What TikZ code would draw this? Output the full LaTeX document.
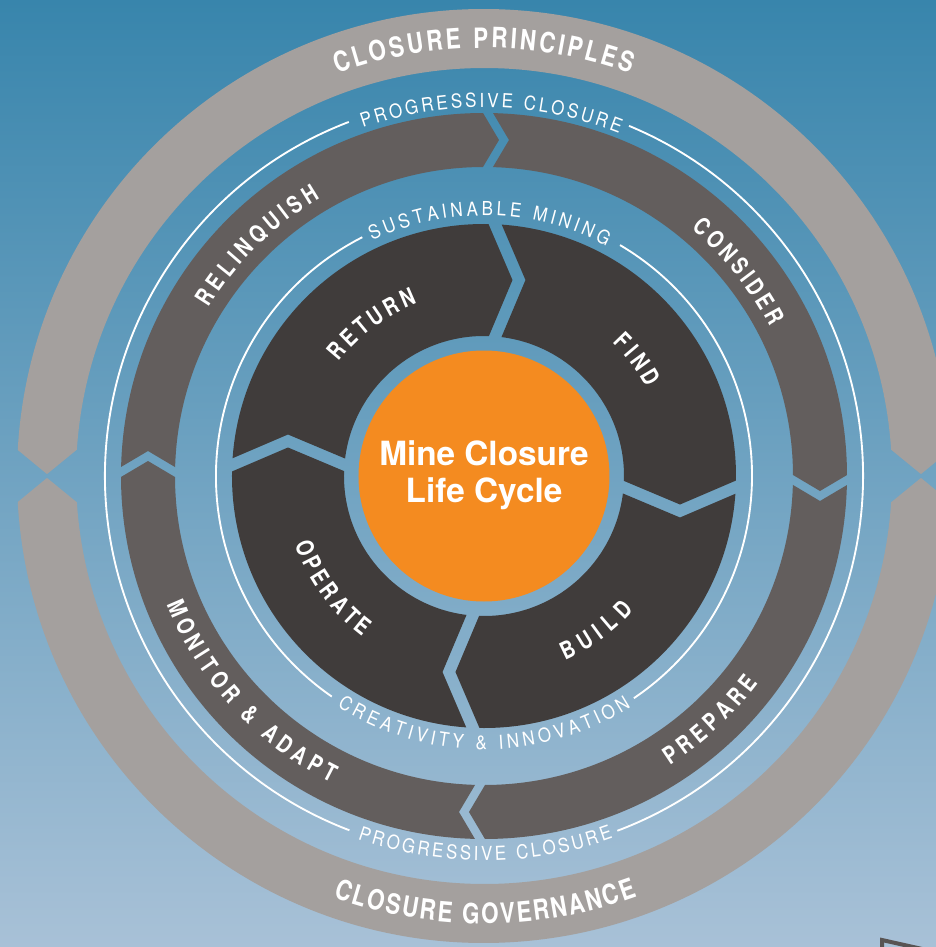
\documentclass[tikz,border=0pt]{standalone}
\usepackage{fontspec}
\usetikzlibrary{decorations.text}
\newfontfamily\heros{TeX Gyre Heros}
\newfontfamily\heroscn{TeX Gyre Heros}[FakeStretch=0.8]
\newfontfamily\herosnarrow{TeX Gyre Heros}[FakeStretch=0.88]
\definecolor{bgtop}{RGB}{56,133,172}
\definecolor{bgbot}{RGB}{168,193,215}
\definecolor{outerring}{RGB}{164,160,158}
\definecolor{midring}{RGB}{99,94,93}
\definecolor{innerring}{RGB}{64,60,59}
\definecolor{hub}{RGB}{244,139,32}
\definecolor{framegray}{RGB}{88,84,83}
\tikzset{
  bigtext/.style={decorate, decoration={text along path, text align=fit to path,
    text={|\color{white}\heroscn\bfseries\fontsize{21}{23}\selectfont|#1}}},
  segtext/.style={decorate, decoration={text along path, text align=fit to path,
    text={|\color{white}\heroscn\bfseries\fontsize{18}{20}\selectfont|#1}}},
  smalltext/.style={decorate, decoration={text along path, text align=fit to path,
    text={|\color{white}\herosnarrow\fontsize{14.5}{16}\selectfont|#1}}},
  whiteline/.style={white, line width=1.4}
}
\begin{document}
\begin{tikzpicture}[x=0.75pt, y=0.75pt]
\useasboundingbox (-484,-471) rectangle (452,476);
\clip (-484,-471) rectangle (452,476);
\shade[top color=bgtop, bottom color=bgbot] (-484,-471) rectangle (452,476);

% outer ring, split left and right
\fill[outerring] (176.8:467) arc[start angle=176.8, end angle=3.2, radius=467] -- (0.25:437) -- (3.7:408)
    arc[start angle=3.7, end angle=176.3, radius=408] -- (179.75:437) -- cycle;
\fill[outerring] (183.2:467) arc[start angle=183.2, end angle=356.8, radius=467] -- (359.75:437) -- (356.3:408)
    arc[start angle=356.3, end angle=183.7, radius=408] -- (180.25:437) -- cycle;

% chevron edges
\foreach \a in {0,90,180,270}
{
    \begin{scope}[rotate=\a]
        \coordinate (i\a p1) at (110,7.7);  \coordinate (i\a p2) at (196,-28.5); \coordinate (i\a p3) at (280,7.5);
        \coordinate (i\a m1) at (110,-5.3); \coordinate (i\a m2) at (196,-41.5); \coordinate (i\a m3) at (280,-5.5);
        \coordinate (m\a p1) at (290,12.3); \coordinate (m\a p2) at (336,-15);   \coordinate (m\a p3) at (385,14);
        \coordinate (m\a m1) at (290,2.3);  \coordinate (m\a m2) at (336,-25);   \coordinate (m\a m3) at (385,4);
    \end{scope}
}

% ring segments
\foreach \a/\b in {0/90,90/180,180/270,270/0}
{
    \begin{scope}
        \clip (0,0) -- (m\a p1) -- (m\a p2) -- (m\a p3) -- ({\a+45}:900) -- (m\b m3) -- (m\b m2) -- (m\b m1) -- cycle;
        \fill[midring, even odd rule] (0,0) circle[radius=363] circle[radius=309];
    \end{scope}
    \begin{scope}
        \clip (0,0) -- (i\a p1) -- (i\a p2) -- (i\a p3) -- ({\a+45}:900) -- (i\b m3) -- (i\b m2) -- (i\b m1) -- cycle;
        \fill[innerring, even odd rule] (0,0) circle[radius=252] circle[radius=140];
    \end{scope}
}

\fill[hub] (0,0) circle[radius=125.5];
\node[font=\heros\bfseries\fontsize{25}{28}\selectfont, text=white, align=center] (title) at (0,1) {Mine Closure\\Life Cycle};

% white rings
\draw[whiteline] (110.9:379) arc[start angle=110.9, end angle=249.2, radius=379];
\draw[whiteline] (290.6:379) arc[start angle=290.6, end angle=427.5, radius=379];
\draw[whiteline] (117:268) arc[start angle=117, end angle=235.4, radius=268];
\draw[whiteline] (304:268) arc[start angle=304, end angle=419.5, radius=268];

% labels
\path[bigtext={CLOSURE PRINCIPLES}] (110:428) arc[start angle=110, end angle=70, radius=428];
\path[bigtext={CLOSURE GOVERNANCE}] (250.3:447.5) arc[start angle=250.3, end angle=290, radius=447.5];
\path[smalltext={PROGRESSIVE CLOSURE}] (109.2:368.5) arc[start angle=109.2, end angle=68.5, radius=368.5];
\path[smalltext={PROGRESSIVE CLOSURE}] (250.8:384.5) arc[start angle=250.8, end angle=289.6, radius=384.5];
\path[smalltext={SUSTAINABLE MINING}] (115.4:260.5) arc[start angle=115.4, end angle=62, radius=260.5];
\path[smalltext={CREATIVITY {\&} INNOVATION}] (237.5:273.5) arc[start angle=237.5, end angle=302.5, radius=273.5];

\path[segtext={RELINQUISH}] (148.5:322.5) arc[start angle=148.5, end angle=120.5, radius=322.5];
\path[segtext={CONSIDER}] (50:322.5) arc[start angle=50, end angle=27.5, radius=322.5];
\path[segtext={PREPARE}] (302.7:344) arc[start angle=302.7, end angle=323, radius=344];
\path[segtext={MONITOR {\&} ADAPT}] (202:342.5) arc[start angle=202, end angle=243.5, radius=342.5];

\path[segtext={RETURN}] (141.8:185) arc[start angle=141.8, end angle=111.2, radius=185];
\path[segtext={FIND}] (46:185) arc[start angle=46, end angle=28.5, radius=185];
\path[segtext={OPERATE}] (199.8:201.5) arc[start angle=199.8, end angle=233, radius=201.5];
\path[segtext={BUILD}] (293.7:201.5) arc[start angle=293.7, end angle=318.1, radius=201.5];

% corner of the next panel
\draw[framegray, line width=3] (398,-476) -- (398,-464) -- (456,-477);
\end{tikzpicture}
\end{document}
